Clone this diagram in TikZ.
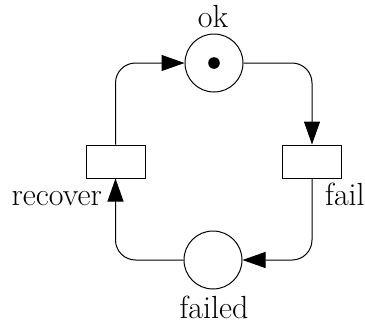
\documentclass[tikz,border=0pt]{standalone}
\usepackage{fontspec}
\usetikzlibrary{arrows.meta}
\begin{document}
\begin{tikzpicture}[x=1pt,y=-1pt,
  place/.style={draw,circle,line width=1pt,minimum size=58pt,inner sep=0pt},
  trans/.style={draw,rectangle,line width=1pt,minimum width=59pt,minimum height=33pt,inner sep=0pt},
  lbl/.style={font=\fontsize{32}{34}\selectfont,inner sep=0pt},
  arc/.style={line width=1pt,rounded corners=20pt,-{Triangle[length=23pt,width=16pt]}}]
\useasboundingbox (0,0) rectangle (365,325);
\node[place] (ok) at (214,63) {};
\fill (ok.center) circle (5.8pt);
\node[place] (failed) at (213,260) {};
\node[trans] (recover) at (115.5,161.5) {};
\node[trans] (fail) at (312,161.5) {};
\node[lbl,anchor=base] (okl) at (213,27) {ok};
\node[lbl,anchor=base] (failedl) at (214,318) {failed};
\node[lbl,anchor=base east] (recoverl) at (102,205) {recover};
\node[lbl,anchor=base west] (faill) at (325,205) {fail};
\draw[arc] (recover.north) |- (ok.west);
\draw[arc] (ok.east) -| (fail.north);
\draw[arc] (fail.south) |- (failed.east);
\draw[arc] (failed.west) -| (recover.south);
\end{tikzpicture}
\end{document}
